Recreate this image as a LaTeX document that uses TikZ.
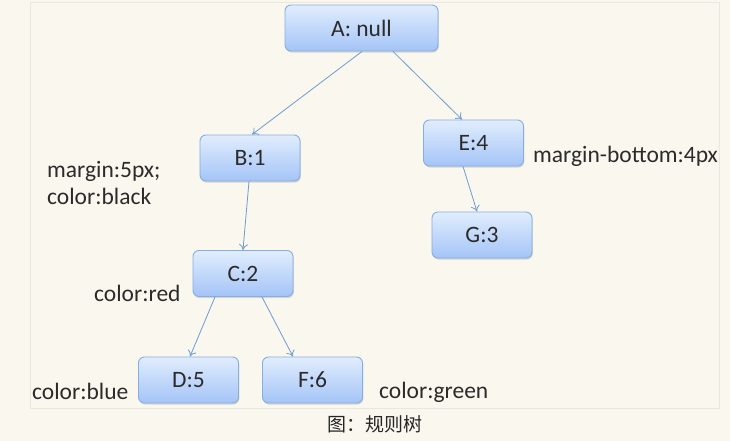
\documentclass[tikz,border=0pt]{standalone}
\usepackage{fontspec}
\setmainfont{Carlito}
\newfontfamily\cjk{Noto Sans CJK SC}
\usetikzlibrary{arrows.meta,shadows,calc}
\definecolor{bgc}{HTML}{F9F7EE}
\definecolor{framec}{HTML}{E9E7DF}
\definecolor{topc}{HTML}{E1EDFD}
\definecolor{botc}{HTML}{A4C4F7}
\definecolor{edgec}{HTML}{85AEE2}
\definecolor{linkc}{HTML}{6E9CD3}
\definecolor{txtc}{HTML}{2B2B2B}
\tikzset{
  treebox/.style={rectangle, rounded corners=6pt, minimum width=100pt, minimum height=46pt,
    top color=topc, bottom color=botc, draw=edgec, line width=0.9pt, text=txtc,
    font=\fontsize{23.5}{27}\selectfont,
    drop shadow={shadow xshift=0.8pt, shadow yshift=-1.6pt, fill=black!30, opacity=0.5}},
  link/.style={draw=linkc, line width=0.8pt, -{To[length=6pt,width=9pt]}},
  lbl/.style={text=txtc, font=\fontsize{23.5}{27}\selectfont, inner sep=0pt}
}
\begin{document}
\begin{tikzpicture}[x=1pt,y=-1pt]
\fill[bgc] (0,0) rectangle (730,441);
\useasboundingbox (0,0) rectangle (730,441);
\draw[framec, line width=0.8pt] (30.5,2.5) rectangle (719.5,408);
% nodes
\node[treebox, minimum width=153pt] (A) at (361.5,28) {A:\ null};
\node[treebox] (B) at (250,158) {B:1};
\node[treebox] (E) at (473.5,143) {E:4};
\node[treebox] (G) at (482,235) {G:3};
\node[treebox] (C) at (243,273.5) {C:2};
\node[treebox] (D) at (188.5,380) {D:5};
\node[treebox] (F) at (312.5,380) {F:6};
% connectors
\draw[link] ($(A.south)+(0.5,0)$) -- ($(B.north)+(2,0)$);
\draw[link] ($(A.south)+(31.5,0)$) -- ($(E.north)+(-11.5,0)$);
\draw[link] ($(B.south)+(-1,0)$) -- ($(C.north)+(0,0)$);
\draw[link] ($(E.south)+(-10.5,0)$) -- ($(G.north)+(-5,0)$);
\draw[link] ($(C.south)+(-28,0)$) -- ($(D.north)+(1.5,0)$);
\draw[link] ($(C.south)+(19,0)$) -- ($(F.north)+(-19.5,0)$);
% labels
\node[lbl, anchor=west, align=left] (lb) at (47,183.5) {margin:5px;\\color:black};
\node[lbl, anchor=west] (le) at (533,156) {margin-bottom:4px};
\node[lbl, anchor=west] (lc) at (94,293) {color:red};
\node[lbl, anchor=west] (ld) at (32,391) {color:blue};
\node[lbl, anchor=west] (lf) at (379,392) {color:green};
\node[text=black!85, font=\cjk\fontsize{19}{22}\selectfont, inner sep=0pt] (cap) at (375,424) {图：规则树};
\end{tikzpicture}
\end{document}
